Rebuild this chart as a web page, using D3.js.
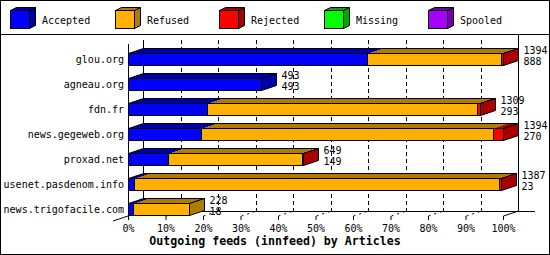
<!DOCTYPE html>
<html>
<head>
<meta charset="utf-8">
<script src="https://cdnjs.cloudflare.com/ajax/libs/d3/7.8.5/d3.min.js"></script>
<style>
  body { margin: 0; background: #fff; }
  text { font-family: "DejaVu Sans Mono", monospace; }
</style>
</head>
<body>
<div id="chart"></div>
<script>
// data
var feeds = ["glou.org", "agneau.org", "fdn.fr", "news.gegeweb.org", "proxad.net", "usenet.pasdenom.info", "news.trigofacile.com"];
var accepted = [888, 493, 293, 270, 149, 23, 18];
var refused = [497, 0, 1003, 1086, 498, 1357, 210];
var rejected = [9, 0, 13, 38, 2, 7, 0];
var missing = [0, 0, 0, 0, 0, 0, 0];
var spooled = [0, 0, 0, 0, 0, 0, 0];
var seriesNames = ["Accepted", "Refused", "Rejected", "Missing", "Spooled"];
var tickPercents = [0, 10, 20, 30, 40, 50, 60, 70, 80, 90, 100];

var faceColors = ["#0000ff", "#ffb000", "#ff0000", "#00ff00", "#a800ff"];
var darkColors = ["#0000a8", "#b07c00", "#a80000", "#00a800", "#7000a8"];

var svgWidth = 550;
var svgHeight = 255;
var depthX = 15;
var depthY = -5;
var barH = 12;
var floorY = 216;

var svg = d3.select("#chart")
    .append("svg")
    .attr("width", svgWidth)
    .attr("height", svgHeight);

// build a table for d3.stack
var table = feeds.map(function(f, i) {
    return {feed: f, Accepted: accepted[i], Refused: refused[i], Rejected: rejected[i], Missing: missing[i], Spooled: spooled[i]};
});
var totals = table.map(d => d.Accepted + d.Refused + d.Rejected + d.Missing + d.Spooled);
var stacked = d3.stack().keys(seriesNames)(table);

// scales
var x = d3.scaleLinear()
    .domain([0, d3.max(totals)])
    .range([128, 503]);
var pct = d3.scaleLinear()
    .domain([0, 100])
    .range([128, 503]);
var y = d3.scalePoint()
    .domain(feeds)
    .range([59, 209]);

// frame and legend separator
svg.append("rect")
    .attr("x", 0.5).attr("y", 0.5)
    .attr("width", svgWidth - 1).attr("height", svgHeight - 1)
    .attr("fill", "none").attr("stroke", "#000");
svg.append("line")
    .attr("x1", 0).attr("x2", svgWidth)
    .attr("y1", 34.5).attr("y2", 34.5)
    .attr("stroke", "#000");

// legend cubes
var legend = svg.selectAll(".legend")
    .data(seriesNames)
    .enter()
    .append("g")
    .attr("transform", (d, i) => `translate(${10 + Math.round(i * 104.5)},10)`);

legend.each(function(d, i) {
    var g = d3.select(this);
    g.append("polygon")
        .attr("points", "19.5,0.5 25.5,-2.5 25.5,15.5 19.5,18.5")
        .attr("fill", darkColors[i]).attr("stroke", "#000");
    g.append("polygon")
        .attr("points", "0.5,0.5 6.5,-2.5 25.5,-2.5 19.5,0.5")
        .attr("fill", darkColors[i]).attr("stroke", "#000");
    g.append("rect")
        .attr("x", 0.5).attr("y", 0.5)
        .attr("width", 19).attr("height", 18)
        .attr("fill", faceColors[i]).attr("stroke", "#000");
    g.append("text")
        .attr("x", 32).attr("y", 13.5)
        .attr("font-size", "10px")
        .text(d);
});

// back grid lines
var grid = svg.append("g").attr("shape-rendering", "crispEdges");
tickPercents.forEach(function(p) {
    var gx = Math.round(pct(p)) + depthX + 0.5;
    grid.append("line")
        .attr("x1", gx).attr("x2", gx)
        .attr("y1", p == 100 ? 34 : 40).attr("y2", floorY + depthY)
        .attr("stroke", "#000")
        .attr("stroke-dasharray", (p == 0 || p == 100) ? null : "4,3");
    // little 3D tick on the floor
    var fx = Math.round(pct(p)) + 0.5;
    grid.append("line")
        .attr("x1", fx).attr("y1", floorY)
        .attr("x2", fx + depthX).attr("y2", floorY + depthY)
        .attr("stroke", "#000")
        .attr("stroke-dasharray", p == 100 ? null : "2,4")
        .attr("shape-rendering", "auto");
});
grid.append("line")
    .attr("x1", 143).attr("x2", 535)
    .attr("y1", floorY + depthY + 0.5).attr("y2", floorY + depthY + 0.5)
    .attr("stroke", "#000");
grid.append("line")
    .attr("x1", 128.5).attr("x2", 128.5)
    .attr("y1", 44).attr("y2", floorY + 4)
    .attr("stroke", "#000");
grid.append("line")
    .attr("x1", 113).attr("y1", floorY + 5)
    .attr("x2", 128).attr("y2", floorY)
    .attr("stroke", "#000")
    .attr("shape-rendering", "auto");

// bars
var bars = svg.append("g").attr("shape-rendering", "crispEdges");
feeds.forEach(function(f, i) {
    var top = y(f) - barH / 2 + 0.5;
    var segs = stacked.map(function(s, k) {
        return {k: k, x0: Math.round(x(s[i][0])) + 0.5, x1: Math.round(x(s[i][1])) + 0.5, v: s[i][1] - s[i][0]};
    }).filter(s => s.v > 0);
    var left = segs[0].x0;
    var right = segs[segs.length - 1].x1;
    var last = segs[segs.length - 1];

    // top faces
    segs.forEach(function(s) {
        bars.append("polygon")
            .attr("points", [[s.x0, top], [s.x1, top], [s.x1 + depthX, top + depthY], [s.x0 + depthX, top + depthY]].join(" "))
            .attr("fill", darkColors[s.k]);
    });
    bars.append("polygon")
        .attr("points", [[left, top], [right, top], [right + depthX, top + depthY], [left + depthX, top + depthY]].join(" "))
        .attr("fill", "none").attr("stroke", "#000")
        .attr("shape-rendering", "auto");
    // right side face
    bars.append("polygon")
        .attr("points", [[right, top], [right + depthX, top + depthY], [right + depthX, top + depthY + barH], [right, top + barH]].join(" "))
        .attr("fill", darkColors[last.k]).attr("stroke", "#000")
        .attr("shape-rendering", "auto");
    // front faces
    segs.forEach(function(s) {
        bars.append("rect")
            .attr("x", s.x0).attr("y", top)
            .attr("width", s.x1 - s.x0).attr("height", barH)
            .attr("fill", faceColors[s.k]).attr("stroke", "#000");
    });

    // value labels: total and accepted
    var lx = right + depthX + 5;
    svg.append("text")
        .attr("x", lx).attr("y", y(f) - 5.5)
        .attr("font-size", "10px")
        .text(totals[i]);
    svg.append("text")
        .attr("x", lx).attr("y", y(f) + 5.5)
        .attr("font-size", "10px")
        .text(accepted[i]);
});

// axes
var bottomAxis = d3.axisBottom(pct)
    .tickValues(tickPercents)
    .tickFormat(d => d + "%")
    .tickSize(4)
    .tickPadding(5);
var xAxisG = svg.append("g")
    .attr("transform", `translate(0,${floorY})`)
    .call(bottomAxis);
xAxisG.select(".domain").remove();
xAxisG.attr("font-family", "DejaVu Sans Mono, monospace").attr("font-size", 10);

var leftAxis = d3.axisLeft(y)
    .tickSize(0)
    .tickPadding(4);
var yAxisG = svg.append("g")
    .attr("transform", "translate(128,0)")
    .call(leftAxis);
yAxisG.select(".domain").remove();
yAxisG.attr("font-family", "DejaVu Sans Mono, monospace").attr("font-size", 10);

// title
svg.append("text")
    .attr("x", 275).attr("y", 245)
    .attr("text-anchor", "middle")
    .attr("font-size", "11.6px")
    .attr("font-weight", "bold")
    .text("Outgoing feeds (innfeed) by Articles");
</script>
</body>
</html>
